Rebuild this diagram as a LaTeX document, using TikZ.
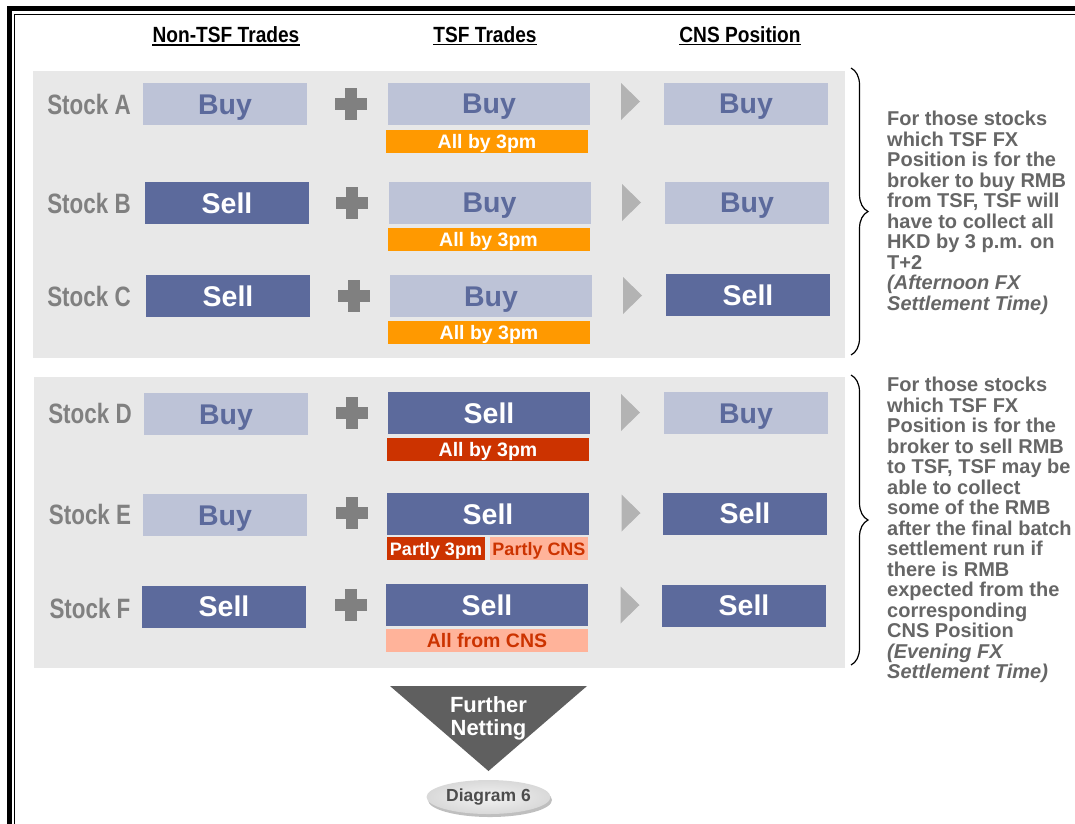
\documentclass[tikz,border=0pt]{standalone}
\usepackage{fontspec}
\setmainfont{Liberation Sans}
\newfontfamily\narrowfont[FakeStretch=0.8]{Liberation Sans}
\newfontfamily\headfont[FakeStretch=0.87]{Liberation Sans}
\usetikzlibrary{decorations.pathreplacing,shadows,shapes.geometric}

\definecolor{panel}{HTML}{E8E8E8}
\definecolor{lightbox}{HTML}{BDC3D7}
\definecolor{darkbox}{HTML}{5C6A9C}
\definecolor{orangetag}{HTML}{FF9900}
\definecolor{redtag}{HTML}{CC3300}
\definecolor{salmontag}{HTML}{FFB39A}
\definecolor{plusgray}{HTML}{808080}
\definecolor{arrowgray}{HTML}{B3B3B3}
\definecolor{labelgray}{HTML}{808080}
\definecolor{notegray}{HTML}{666666}
\definecolor{funnelgray}{HTML}{5F5F5F}
\definecolor{ovaltext}{HTML}{4D4D4D}

\tikzset{
  heading/.style={inner sep=0pt, anchor=base, font=\headfont\fontsize{22}{22}\selectfont\bfseries},
  stocklabel/.style={inner sep=0pt, text height=20pt, text depth=0pt, text=labelgray,
    font=\narrowfont\fontsize{28}{28}\selectfont\bfseries},
  trade/.style={inner sep=0pt, minimum height=42pt, text height=20pt, text depth=0pt,
    font=\fontsize{28.5}{28.5}\selectfont\bfseries},
  buybox/.style={trade, fill=lightbox, text=darkbox},
  sellbox/.style={trade, fill=darkbox, text=white},
  narrowbox/.style={minimum width=164pt},
  widebox/.style={minimum width=202pt},
  tag/.style={inner sep=0pt, minimum height=23pt, text height=14pt, text depth=0pt,
    font=\fontsize{19.5}{19.5}\selectfont\bfseries},
  orangebox/.style={tag, minimum width=202pt, fill=orangetag, text=white},
  redbox/.style={tag, fill=redtag, text=white},
  salmonbox/.style={tag, fill=salmontag, text=redtag},
  note/.style={inner sep=0pt, anchor=north west, align=left, text=notegray,
    font=\fontsize{20}{20.5}\selectfont\bfseries},
  bracket/.style={decorate, decoration={brace, amplitude=17pt, aspect=0.5}, line width=1.2pt},
  plussign/.pic={
    \fill[plusgray] (-16,-5.8) rectangle (16,5.8);
    \fill[plusgray] (-5.6,-16) rectangle (5.6,16);
  },
  nextstep/.pic={
    \fill[arrowgray] (-9.5,-18.5) -- (9.5,0) -- (-9.5,18.5) -- cycle;
  }
}

\begin{document}
\begin{tikzpicture}[x=1pt, y=-1pt]
\useasboundingbox (0,0) rectangle (1075,823);

% page frame (double rule)
\draw[line width=5pt, line join=miter] (9.5,830) -- (9.5,8.5) -- (1085,8.5);
\draw[line width=1.4pt, line join=miter] (14.5,830) -- (14.5,14.5) -- (1085,14.5);

% column headings
\node[heading] (hNon) at (226,42.5) {Non-TSF Trades};
\node[heading] (hTSF) at (485,42) {TSF Trades};
\node[heading] (hCNS) at (740,42) {CNS Position};
\foreach \h in {hNon,hTSF,hCNS}
  \draw[line width=1.8pt] ([yshift=-2.5pt]\h.base west) -- ([yshift=-2.5pt]\h.base east);

% grey panels
\fill[panel] (33,71) rectangle (845,358);
\fill[panel] (34,377) rectangle (845,668);

% Stock A
\node[stocklabel] (sA) at (89,104) {Stock A};
\node[buybox, narrowbox] (nA) at (225,104) {Buy};
\pic (pA) at (351,104) {plussign};
\node[buybox, widebox] (tA) at (489,103.5) {Buy};
\node[orangebox] (gA) at (487,141) {All by 3pm};
\pic (aA) at (630.5,101.5) {nextstep};
\node[buybox, narrowbox] (cA) at (746,103.5) {Buy};

% Stock B
\node[stocklabel] (sB) at (89,203) {Stock B};
\node[sellbox, narrowbox] (nB) at (227,203) {Sell};
\pic (pB) at (352,203) {plussign};
\node[buybox, widebox] (tB) at (489.5,202.5) {Buy};
\node[orangebox] (gB) at (488.5,239.5) {All by 3pm};
\pic (aB) at (631.5,202.5) {nextstep};
\node[buybox, narrowbox] (cB) at (747,202.5) {Buy};

% Stock C
\node[stocklabel] (sC) at (89,296) {Stock C};
\node[sellbox, narrowbox] (nC) at (228,296) {Sell};
\pic (pC) at (354,296) {plussign};
\node[buybox, widebox] (tC) at (491,296) {Buy};
\node[orangebox] (gC) at (489,332.5) {All by 3pm};
\pic (aC) at (632.5,295.5) {nextstep};
\node[sellbox, narrowbox] (cC) at (748,295) {Sell};

% Stock D
\node[stocklabel] (sD) at (90,413) {Stock D};
\node[buybox, narrowbox] (nD) at (226,414) {Buy};
\pic (pD) at (352,413) {plussign};
\node[sellbox, widebox] (tD) at (489,413) {Sell};
\node[redbox, minimum width=202pt] (gD) at (488,449.5) {All by 3pm};
\pic (aD) at (630.5,412.5) {nextstep};
\node[buybox, narrowbox] (cD) at (746,413) {Buy};

% Stock E
\node[stocklabel] (sE) at (90,514) {Stock E};
\node[buybox, narrowbox] (nE) at (225,515) {Buy};
\pic (pE) at (352,513) {plussign};
\node[sellbox, widebox] (tE) at (488,514) {Sell};
\node[redbox, minimum width=98pt, font=\fontsize{18}{18}\selectfont\bfseries, text height=13pt] (gE1) at (436,548.5) {Partly 3pm};
\node[salmonbox, minimum width=98pt, font=\fontsize{18}{18}\selectfont\bfseries, text height=13pt] (gE2) at (539,548.5) {Partly CNS};
\pic (aE) at (631,513) {nextstep};
\node[sellbox, narrowbox] (cE) at (745,513.5) {Sell};

% Stock F
\node[stocklabel] (sF) at (90,608) {Stock F};
\node[sellbox, narrowbox] (nF) at (224,606.5) {Sell};
\pic (pF) at (351,605) {plussign};
\node[sellbox, widebox] (tF) at (487,605) {Sell};
\node[salmonbox, minimum width=202pt] (gF) at (487,640.5) {All from CNS};
\pic (aF) at (630,605) {nextstep};
\node[sellbox, narrowbox] (cF) at (744,605.5) {Sell};

% braces and explanations
\draw[bracket] (851,68) -- (851,355);
\draw[bracket] (851,375) -- (851,665);

\node[note] (noteA) at (887,111) {For those stocks\\which TSF FX\\Position is for the\\broker to buy RMB\\from TSF, TSF will\\have to collect all\\HKD by 3 p.m. on\\T+2\\\textit{(Afternoon FX}\\\textit{Settlement Time)}};
\node[note] (noteB) at (887,377) {For those stocks\\which TSF FX\\Position is for the\\broker to sell RMB\\to TSF, TSF may be\\able to collect\\some of the RMB\\after the final batch\\settlement run if\\there is RMB\\expected from the\\corresponding\\CNS Position\\\textit{(Evening FX}\\\textit{Settlement Time)}};

% netting funnel
\fill[funnelgray] (390,686) -- (587,686) -- (488.5,771) -- cycle;
\node[inner sep=0pt, align=center, text=white, font=\fontsize{22}{23}\selectfont\bfseries] (net) at (488.5,718) {Further\\Netting};

% result oval
\node[ellipse, inner sep=0pt, minimum width=124pt, minimum height=34pt,
  inner color=gray!10, outer color=gray!30,
  drop shadow={opacity=0.5, shadow xshift=1.5pt, shadow yshift=-3pt},
  text=ovaltext, font=\fontsize{17.5}{17.5}\selectfont\bfseries] (d6) at (488.5,797) {Diagram 6};
\end{tikzpicture}
\end{document}
